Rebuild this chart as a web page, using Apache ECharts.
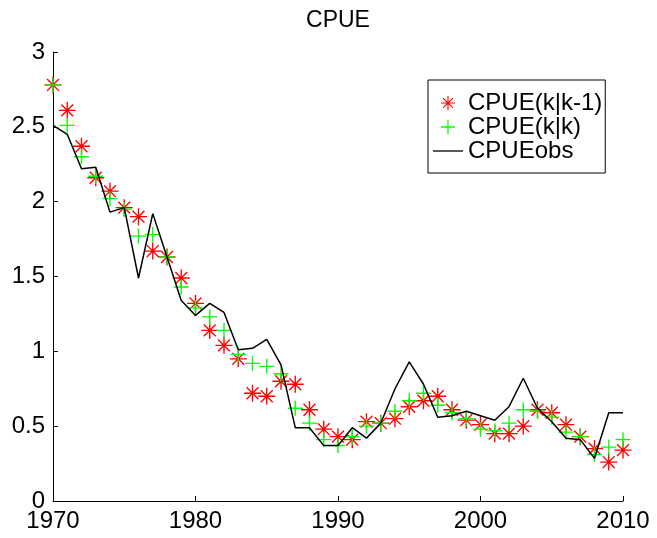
<!DOCTYPE html>
<html>
<head>
<meta charset="utf-8">
<script src="https://cdn.jsdelivr.net/npm/echarts@6/dist/echarts.min.js"></script>
<style>
html,body{margin:0;padding:0;background:#fff;}
#chart{width:657px;height:538px;}
</style>
</head>
<body>
<div id="chart"></div>
<script>
const years = [1970,1971,1972,1973,1974,1975,1976,1977,1978,1979,1980,1981,1982,1983,1984,1985,1986,1987,1988,1989,1990,1991,1992,1993,1994,1995,1996,1997,1998,1999,2000,2001,2002,2003,2004,2005,2006,2007,2008,2009,2010];
const cpuePred = [2.78,2.61,2.37,2.16,2.07,1.96,1.90,1.67,1.63,1.49,1.32,1.14,1.04,0.95,0.72,0.70,0.80,0.78,0.61,0.48,0.43,0.41,0.53,0.52,0.55,0.63,0.67,0.70,0.61,0.54,0.51,0.45,0.45,0.50,0.61,0.59,0.51,0.43,0.35,0.26,0.34];
const cpueFilt = [2.78,2.51,2.30,2.17,2.02,1.95,1.77,1.78,1.63,1.43,1.29,1.23,1.14,0.98,0.92,0.90,0.85,0.62,0.52,0.41,0.37,0.43,0.50,0.52,0.60,0.67,0.72,0.64,0.59,0.55,0.48,0.47,0.52,0.61,0.60,0.56,0.46,0.43,0.31,0.36,0.41];
const cpueObs = [2.51,2.45,2.22,2.23,1.93,1.96,1.49,1.92,1.63,1.34,1.24,1.32,1.26,1.01,1.02,1.08,0.91,0.49,0.49,0.37,0.37,0.49,0.42,0.52,0.75,0.93,0.78,0.56,0.57,0.60,0.57,0.54,0.63,0.82,0.62,0.53,0.42,0.41,0.285,0.59,0.59];
const seriesNames = ['CPUE(k|k-1)','CPUE(k|k)','CPUEobs'];
const yTicks = [0,0.5,1,1.5,2,2.5,3];
const xTicks = [1970,1980,1990,2000,2010];

const asteriskPath = 'path://M0,9.2L20,9.2L20,10.8L0,10.8Z M9.2,0L10.8,0L10.8,20L9.2,20Z M3.566,2.434L17.566,16.434L16.434,17.566L2.434,3.566Z M17.566,3.566L3.566,17.566L2.434,16.434L16.434,2.434Z';
const plusPath = 'path://M0,9.1L20,9.1L20,10.9L0,10.9Z M9.1,0L10.9,0L10.9,20L9.1,20Z';
const linePath = 'path://M0,0L30,0L30,1.3L0,1.3Z';

const pair = arr => years.map((y,i)=>[y,arr[i]]);
const font = 'Liberation Sans, Arial, Helvetica, sans-serif';

const chart = echarts.init(document.getElementById('chart'), null, {renderer:'canvas'});
chart.setOption({
  animation:false,
  backgroundColor:'#fff',
  title:{text:'CPUE', left:338, textAlign:'center', top:9, padding:0,
    textStyle:{fontFamily:font, fontSize:23, fontWeight:'normal', color:'#000'}},
  grid:{left:53, right:34, top:52, bottom:37, containLabel:false},
  legend:{
    orient:'vertical', left:428, top:80,
    padding:[11,3,10,5], itemGap:0, itemWidth:30, itemHeight:14,
    borderColor:'#000', borderWidth:1, backgroundColor:'#fff',
    textStyle:{fontFamily:font, fontSize:24, color:'#000', lineHeight:23, padding:[0,0,0,0]},
    data:[
      {name:seriesNames[0], icon:asteriskPath},
      {name:seriesNames[1], icon:plusPath},
      {name:seriesNames[2], icon:linePath, itemStyle:{color:'#000'}}
    ]
  },
  xAxis:{type:'value', min:1970, max:2010, interval:10,
    axisLine:{lineStyle:{color:'#000', width:1}},
    axisTick:{inside:true, length:5, lineStyle:{color:'#000'}},
    axisLabel:{fontFamily:font, fontSize:24, color:'#000', margin:8, formatter:v=>String(v)},
    splitLine:{show:false}},
  yAxis:{type:'value', min:0, max:3, interval:0.5,
    axisLine:{show:true, lineStyle:{color:'#000', width:1}},
    axisTick:{show:true, inside:true, length:5, lineStyle:{color:'#000'}},
    axisLabel:{fontFamily:font, fontSize:24, color:'#000', margin:8},
    splitLine:{show:false}},
  series:[
    {name:seriesNames[0], type:'scatter', data:pair(cpuePred), symbol:asteriskPath, symbolSize:17,
      itemStyle:{color:'#ff0000', opacity:1}},
    {name:seriesNames[1], type:'scatter', data:pair(cpueFilt), symbol:plusPath, symbolSize:15,
      itemStyle:{color:'#00ff00', opacity:1}},
    {name:seriesNames[2], type:'line', data:pair(cpueObs), symbol:'none', showSymbol:false,
      lineStyle:{color:'#000', width:1.5}, itemStyle:{color:'#000'}}
  ]
});
</script>
</body>
</html>
